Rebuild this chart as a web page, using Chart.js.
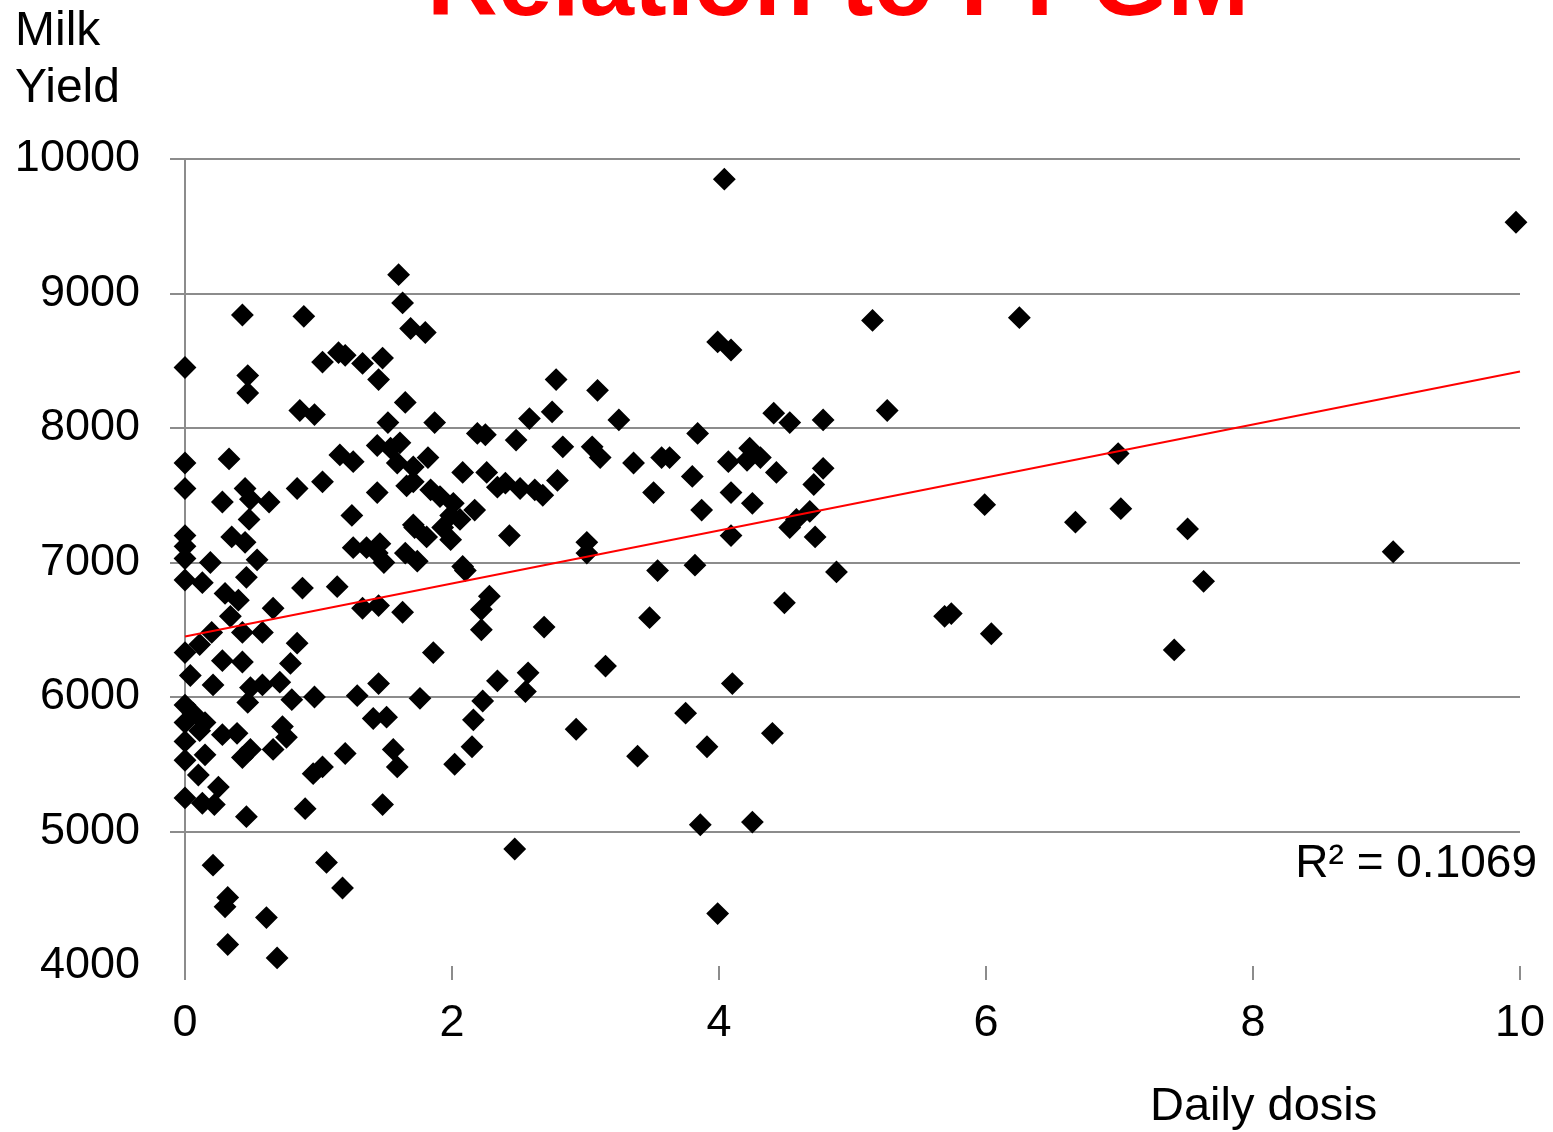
<!DOCTYPE html>
<html>
<head>
<meta charset="utf-8">
<script src="https://cdn.jsdelivr.net/npm/chart.js@4.4.1/dist/chart.umd.min.js"></script>
<style>
  body { margin: 0; background: #fff; }
  #wrap { position: relative; width: 1553px; height: 1132px; overflow: hidden; background: #fff; }
  .lbl { position: absolute; white-space: nowrap; font-family: "Liberation Sans", Arial, sans-serif; color: #000; }
  #title { left: 427px; top: -68px; font-size: 98px; line-height: 98px; font-weight: bold; color: #ff0000; }
  #ytitle { left: 15px; top: 0px; font-size: 48px; line-height: 57px; }
  #xtitle { left: 1150px; top: 1080px; font-size: 47px; line-height: 47px; }
  #r2 { right: 16px; top: 838px; font-size: 46px; line-height: 46px; }
</style>
</head>
<body>
<div id="wrap">
  <canvas id="chart" width="1553" height="1132"></canvas>
  <div class="lbl" id="title">Relation to PPGM</div>
  <div class="lbl" id="ytitle">Milk<br>Yield</div>
  <div class="lbl" id="xtitle">Daily dosis</div>
  <div class="lbl" id="r2">R² = 0.1069</div>
</div>
<script>
// data (daily dosis vs milk yield)
const doseX = [
  0, 0, 0, 0, 0, 0, 0, 0.13, 0.19, 0.35, 0.45, 0.46, 0.54, 0.30, 0.40, 0.34, 0.20, 0.43, 0.66, 0.88,
  1.14, 1.33, 1.45, 1.63, 0.11, 0.58, 0, 0.84, 0.79, 0.28, 0.43, 0.04, 0.21, 0.49, 0.58, 0.71,
  0.47, 0.80, 0.97, 1.29, 1.45, 1.76, 1.86, 0, 0.06, 0.15, 0, 0.11, 0, 0.28, 0.39, 0.43, 0.15,
  0, 0.10, 0.25, 0, 0.13, 0.22, 0.46, 0.73, 0.76, 0.49, 0.66, 1.20, 1.56, 1.59, 0.96, 1.03, 1.41,
  1.51, 0.90, 1.48, 0.21, 1.06, 1.18, 0.32, 0.30, 0.61, 0.32, 0.69, 1.60, 1.63, 0.43, 0.89, 1.69,
  1.80, 1.03, 1.15, 1.20, 1.33, 1.48, 1.45, 0.47, 0.47, 1.65, 0.86, 0.97, 1.52, 1.87, 0.33, 1.16,
  1.26, 1.44, 1.54, 1.61, 1.59, 1.71, 1.82, 0.28, 0.45, 0.49, 0.63, 0.84, 1.03, 1.44, 1.66, 1.71,
  1.84, 0.48, 1.25, 1.71, 1.65, 1.72, 1.81, 1.93, 1.99, 1.99, 2.06, 1.91, 2.01, 2.17, 2.08, 2.26,
  2.34, 2.08, 2.78, 3.09, 2.58, 2.75, 3.25, 2.19, 2.25, 2.48, 2.83, 3.05, 3.11, 3.36, 3.57, 3.63,
  3.84, 2.79, 2.40, 2.51, 2.62, 2.68, 3.80, 3.51, 3.87, 2.43, 3.01, 3.01, 2.10, 3.54, 3.82, 2.28,
  2.22, 2.22, 2.69, 3.48, 3.15, 2.34, 2.57, 2.55, 2.23, 2.16, 2.15, 2.02, 2.93, 3.75, 3.39, 3.91,
  2.47, 4.04, 3.99, 4.09, 5.15, 4.41, 4.53, 4.78, 5.26, 4.07, 4.23, 4.31, 4.21, 4.43, 4.78, 4.71,
  4.09, 4.25, 4.68, 4.58, 4.53, 4.09, 4.72, 4.88, 4.49, 4.10, 4.40, 4.25, 3.86, 3.99, 9.97, 6.25,
  5.99, 6.67, 6.99, 7.01, 7.51, 7.63, 9.05, 5.69, 5.74, 6.04, 7.41, 1.26, 1.36, 1.46, 1.44, 1.49,
  1.74
];
const milkY = [
  8450, 7740, 7550, 7200, 7120, 7030, 6870, 6850, 7000, 7190, 7150, 6890, 7020, 6770, 6720, 6600, 6480, 6480, 6660, 6810,
  6820, 6660, 6680, 6630, 6390, 6480, 6330, 6400, 6250, 6270, 6260, 6160, 6090, 6070, 6090, 6110,
  5960, 5980, 6000, 6010, 6100, 5990, 6330, 5940, 5880, 5810, 5810, 5750, 5670, 5720, 5730, 5550, 5570,
  5530, 5420, 5330, 5250, 5210, 5200, 5110, 5780, 5700, 5610, 5610, 5580, 5610, 5480, 5430, 5480, 5840,
  5850, 5170, 5200, 4750, 4770, 4580, 4510, 4440, 4360, 4160, 4060, 9140, 8930, 8840, 8830, 8740,
  8710, 8490, 8560, 8540, 8480, 8520, 8360, 8390, 8260, 8190, 8130, 8100, 8040, 8040, 7770, 7800,
  7750, 7870, 7850, 7890, 7740, 7710, 7780, 7450, 7550, 7470, 7450, 7550, 7600, 7520, 7570, 7600,
  7540, 7320, 7350, 7280, 7070, 7260, 7190, 7260, 7170, 7350, 7320, 7490, 7440, 7390, 7670, 7670,
  7560, 6970, 8360, 8280, 8070, 8120, 8060, 7960, 7950, 7910, 7860, 7860, 7780, 7740, 7780, 7780,
  7960, 7610, 7590, 7550, 7540, 7500, 7640, 7520, 7390, 7200, 7150, 7070, 6940, 6940, 6980, 6750,
  6650, 6500, 6520, 6590, 6230, 6120, 6180, 6040, 5970, 5830, 5630, 5500, 5760, 5880, 5560, 5630,
  4870, 9850, 8640, 8580, 8800, 8110, 8040, 8060, 8130, 7750, 7850, 7780, 7760, 7670, 7700, 7580,
  7520, 7440, 7380, 7320, 7260, 7200, 7190, 6930, 6700, 6100, 5730, 5070, 5050, 4390, 9530, 8820,
  7430, 7300, 7810, 7400, 7250, 6860, 7080, 6600, 6620, 6470, 6350, 7110, 7110, 7140, 7070, 7000,
  7010
];

// linear trend line as drawn in the source (end points)
const trendX = [0, 10];
const trendY = [6450, 8420];

const xTicks = [0, 2, 4, 6, 8, 10];
const yTicks = [4000, 5000, 6000, 7000, 8000, 9000, 10000];

const grey = '#8c8c8c';
const tickFont = { family: '"Liberation Sans", Arial, sans-serif', size: 45 };

const points = doseX.map((x, i) => ({ x: x, y: milkY[i] }));
const trend = trendX.map((x, i) => ({ x: x, y: trendY[i] }));

new Chart(document.getElementById('chart'), {
  type: 'scatter',
  data: {
    datasets: [
      {
        data: trend,
        showLine: true,
        borderColor: '#ff0000',
        borderWidth: 2,
        pointRadius: 0,
        order: 0,
        clip: false
      },
      {
        data: points,
        pointStyle: 'rectRot',
        pointRadius: 10,
        backgroundColor: '#000',
        borderColor: '#000',
        borderWidth: 2,
        order: 1,
        clip: false
      }
    ]
  },
  options: {
    responsive: false,
    animation: false,
    events: [],
    layout: { padding: { top: 159, right: 33, left: 0, bottom: 0 } },
    plugins: { legend: { display: false }, tooltip: { enabled: false } },
    scales: {
      x: {
        type: 'linear',
        min: 0,
        max: 10,
        afterBuildTicks: s => { s.ticks = xTicks.map(v => ({ value: v })); },
        afterFit: s => { s.height = 166; s.paddingLeft = 0; s.paddingRight = 0; },
        border: { display: false },
        grid: {
          color: c => (c.tick && c.tick.value === 0 ? grey : 'transparent'),
          tickColor: grey,
          lineWidth: 2,
          tickLength: 14
        },
        ticks: { color: '#000', font: tickFont, padding: 17, maxRotation: 0, callback: v => String(v) }
      },
      y: {
        type: 'linear',
        min: 4000,
        max: 10000,
        afterBuildTicks: s => { s.ticks = yTicks.map(v => ({ value: v })); },
        afterFit: s => { s.width = 185; s.paddingTop = 0; s.paddingBottom = 0; },
        border: { display: false },
        grid: {
          color: c => (c.tick && c.tick.value === 4000 ? 'transparent' : grey),
          tickColor: c => (c.tick && c.tick.value === 4000 ? 'transparent' : grey),
          lineWidth: 2,
          tickLength: 15
        },
        ticks: { color: '#000', font: tickFont, padding: 30, callback: v => String(v) }
      }
    }
  }
});
</script>
</body>
</html>
